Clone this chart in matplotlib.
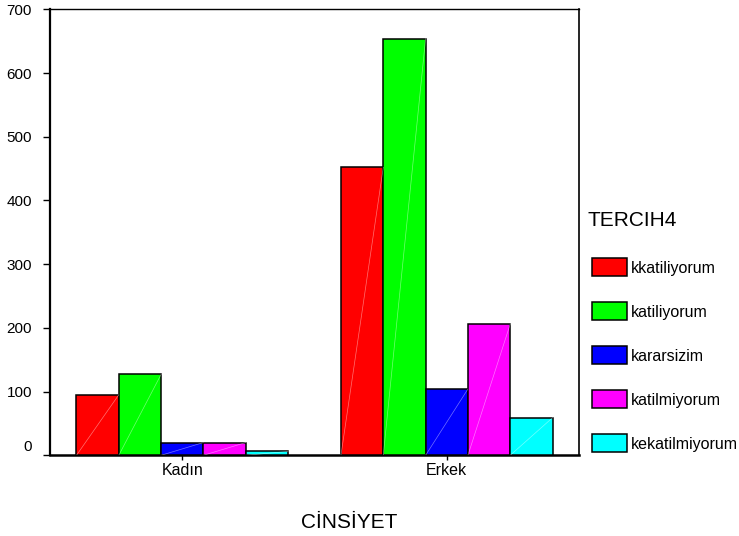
import numpy as np
import matplotlib
matplotlib.use('Agg')
import matplotlib.pyplot as plt
import matplotlib.transforms as mtransforms
from matplotlib.patches import Patch

plt.rcParams['font.family'] = ['Liberation Sans', 'DejaVu Sans']

# data
groups = ['Kadın', 'Erkek']
series = ['kkatiliyorum', 'katiliyorum', 'kararsizim', 'katilmiyorum', 'kekatilmiyorum']
kkatiliyorum = [95, 452]
katiliyorum = [127, 654]
kararsizim = [20, 104]
katilmiyorum = [20, 206]
kekatilmiyorum = [6, 59]
values = [kkatiliyorum, katiliyorum, kararsizim, katilmiyorum, kekatilmiyorum]
colors = ['#ff0000', '#00ff00', '#0000ff', '#ff00ff', '#00ffff']
yticks = [0, 100, 200, 300, 400, 500, 600, 700]

fig = plt.figure(figsize=(7.39, 5.36), dpi=100, facecolor='white')
ax = fig.add_axes([0.0677, 0.1506, 0.7158, 0.832])

x = np.arange(len(groups))
w = 0.16
for i, (vals, col) in enumerate(zip(values, colors)):
    bars = ax.bar(x + (i - 2) * w, vals, width=w, color=col, edgecolor='black', linewidth=1.1, zorder=3)
    # faint diagonal streak like the SPSS rendering
    for b in bars:
        x0, y0 = b.get_x(), b.get_y()
        ax.plot([x0, x0 + b.get_width()], [y0, y0 + b.get_height()],
                color='white', lw=0.5, alpha=0.45, zorder=4)

ax.set_xlim(-0.5, 1.5)
ax.set_ylim(0, 700)
ax.set_xticks(x)
ax.set_xticklabels(groups, fontsize=11.5)
ax.set_yticks(yticks)
ax.set_yticklabels([str(t) for t in yticks], fontsize=11)
ax.tick_params(axis='y', length=5, width=1, pad=8, colors='black')
ax.tick_params(axis='x', length=3.6, width=1, pad=2, colors='black')
# the zero label sits a bit higher in the original
off = mtransforms.ScaledTranslation(0, 10 / 100, fig.dpi_scale_trans)
ax.get_yticklabels()[0].set_transform(ax.get_yticklabels()[0].get_transform() + off)

ax.spines['left'].set_linewidth(1.6)
ax.spines['bottom'].set_linewidth(1.8)
ax.spines['top'].set_linewidth(1.0)
ax.spines['right'].set_linewidth(1.2)

fig.text(349 / 739, 1 - 523 / 536, 'CİNSİYET', fontsize=15, ha='center', va='center')

# legend
fig.text(587 / 739, 1 - 220 / 536, 'TERCIH4', fontsize=15, ha='left', va='center')
handles = [Patch(facecolor=c, edgecolor='black', linewidth=1.1) for c in colors]
fig.legend(handles, series, loc='upper left', bbox_to_anchor=(592 / 739, 1 - 258 / 536),
           frameon=False, fontsize=11.5, handlelength=2.2, handleheight=1.4,
           labelspacing=1.6, handletextpad=0.25, borderpad=0, borderaxespad=0)

fig.savefig('out.png', dpi=100, facecolor='white')
